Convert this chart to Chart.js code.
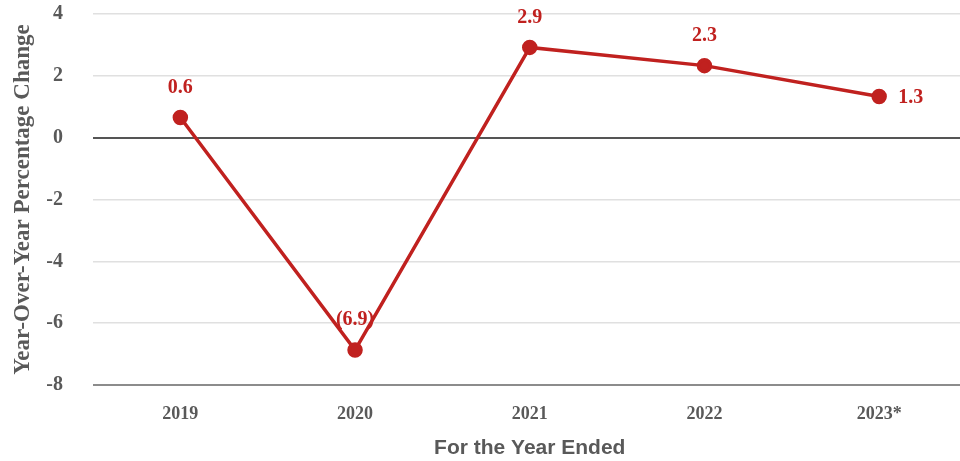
<!DOCTYPE html>
<html>
<head>
<meta charset="utf-8">
<script src="https://cdn.jsdelivr.net/npm/chart.js@4.4.0/dist/chart.umd.min.js"></script>
<style>
  html, body { margin: 0; padding: 0; background: #fff; overflow: hidden; }
  #wrap { width: 976px; height: 461px; }
</style>
</head>
<body>
<div id="wrap"><canvas id="chart"></canvas></div>
<script>
const years = ['2019', '2020', '2021', '2022', '2023*'];
const changes = [0.65, -6.87, 2.92, 2.33, 1.33];
const labelText = ['0.6', '(6.9)', '2.9', '2.3', '1.3'];
const yTicks = [4, 2, 0, -2, -4, -6, -8];

const red = '#C0211F';
const grey = '#595959';

// where each value label sits relative to its point
const labelSide = ['top', 'top', 'top', 'top', 'right'];

const valueLabels = {
  id: 'valueLabels',
  afterDatasetsDraw(chart) {
    const ctx = chart.ctx;
    const meta = chart.getDatasetMeta(0);
    ctx.save();
    ctx.fillStyle = red;
    ctx.font = 'bold 20px "Liberation Serif", "Times New Roman", serif';
    ctx.textBaseline = 'middle';
    meta.data.forEach((pt, i) => {
      if (labelSide[i] === 'right') {
        ctx.textAlign = 'left';
        ctx.fillText(labelText[i], pt.x + 19, pt.y + 1);
      } else {
        ctx.textAlign = 'center';
        ctx.fillText(labelText[i], pt.x, pt.y - 30);
      }
    });
    ctx.restore();
  }
};

new Chart(document.getElementById('chart'), {
  type: 'line',
  data: {
    labels: years,
    datasets: [{
      data: changes,
      borderColor: red,
      backgroundColor: red,
      borderWidth: 3.5,
      pointRadius: 6,
      pointHoverRadius: 6,
      tension: 0
    }]
  },
  options: {
    responsive: true,
    maintainAspectRatio: false,
    animation: false,
    layout: { padding: { left: 9, right: 7, top: 14, bottom: 0 } },
    plugins: {
      legend: { display: false },
      tooltip: { enabled: false }
    },
    scales: {
      x: {
        offset: true,
        grid: { display: false, drawTicks: false },
        border: { display: false },
        afterFit(scale) { scale.height = 76; },
        ticks: {
          color: grey,
          padding: 19,
          font: { family: '"Liberation Serif", serif', weight: 'bold', size: 18 }
        },
        title: {
          display: true,
          text: 'For the Year Ended',
          color: grey,
          padding: { top: 4, bottom: 0 },
          font: { family: '"Liberation Sans", Arial, sans-serif', weight: 'bold', size: 21 }
        }
      },
      y: {
        min: -8,
        max: 4,
        afterBuildTicks(scale) {
          scale.ticks = yTicks.map(v => ({ value: v }));
        },
        afterFit(scale) {
          scale.width = 84;
          scale.paddingTop = 0;
          scale.paddingBottom = 0;
        },
        grid: {
          drawTicks: false,
          lineWidth: ctx => (ctx.tick && (ctx.tick.value === 0 || ctx.tick.value === -8)) ? 2 : 1.5,
          color: ctx => {
            if (!ctx.tick) return '#e0e0e0';
            if (ctx.tick.value === 0) return '#555555';
            if (ctx.tick.value === -8) return '#8c8c8c';
            return '#e0e0e0';
          }
        },
        border: { display: false },
        ticks: {
          color: grey,
          padding: 30,
          font: { family: '"Liberation Serif", serif', weight: 'bold', size: 20 }
        },
        title: {
          display: true,
          text: 'Year-Over-Year Percentage Change',
          color: grey,
          padding: { top: 0, bottom: 6 },
          font: { family: '"Liberation Serif", serif', weight: 'bold', size: 23 }
        }
      }
    }
  },
  plugins: [valueLabels]
});
</script>
</body>
</html>
